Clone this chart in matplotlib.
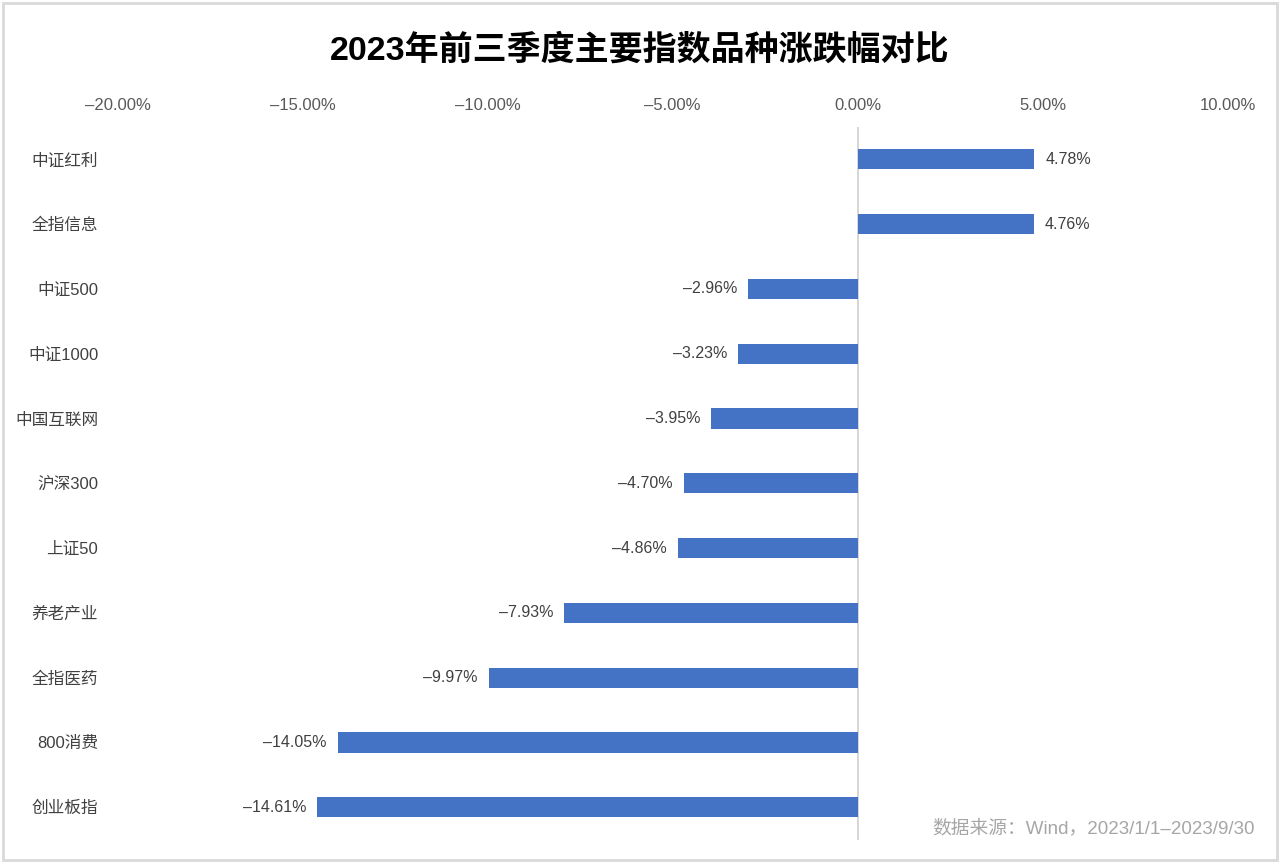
import numpy as np
import matplotlib.pyplot as plt
from matplotlib.ticker import FuncFormatter

plt.rcParams['font.family'] = ['Liberation Sans', 'Noto Sans CJK SC', 'DejaVu Sans']
plt.rcParams['axes.unicode_minus'] = True

categories = ['中证红利', '全指信息', '中证500', '中证1000', '中国互联网', '沪深300',
              '上证50', '养老产业', '全指医药', '800消费', '创业板指']
values = [4.78, 4.76, -2.96, -3.23, -3.95, -4.70, -4.86, -7.93, -9.97, -14.05, -14.61]
xticks = [-20, -15, -10, -5, 0, 5, 10]


def pct(v, pos=None):
    s = f'{abs(v):.2f}%'
    return ('\u2013' + s) if v < 0 else s


fig = plt.figure(figsize=(12.8, 8.63), dpi=100)
ax = fig.add_axes([0.092, 0.027, 0.867, 0.826])

y = np.arange(len(categories))
ax.barh(y, values, height=0.31, color='#4472C4', zorder=2)

for yi, v in zip(y, values):
    ax.text(v + (0.3 if v > 0 else -0.3), yi, pct(v),
            ha='left' if v > 0 else 'right', va='center',
            fontsize=11.5, color='#404040')

ax.set_xlim(-20, 10)
ax.set_ylim(len(categories) - 0.5, -0.5)
ax.set_xticks(xticks)
ax.xaxis.set_major_formatter(FuncFormatter(pct))
ax.xaxis.tick_top()
ax.tick_params(axis='x', length=0, pad=10, labelsize=12, labelcolor='#595959')
ax.set_yticks(y)
ax.set_yticklabels(categories)
ax.tick_params(axis='y', length=0, pad=14, labelsize=12, labelcolor='#404040')

for s in ax.spines.values():
    s.set_visible(False)
ax.axvline(0, color='#d0d0d0', lw=1.2, zorder=1)

fig.text(0.5, 0.942, '2023年前三季度主要指数品种涨跌幅对比', ha='center', va='center',
         fontsize=24.5, fontweight='bold', color='black',
         family=['Liberation Sans', 'Noto Sans CJK SC'])
fig.text(0.98, 0.04, '数据来源：Wind，2023/1/1\u20132023/9/30', ha='right', va='center',
         fontsize=13.5, color='#a6a6a6')

fig.patches.append(plt.Rectangle((0.002, 0.003), 0.996, 0.994, transform=fig.transFigure,
                                 fill=False, edgecolor='#d9d9d9', lw=2))

fig.savefig('out.png', dpi=100)
